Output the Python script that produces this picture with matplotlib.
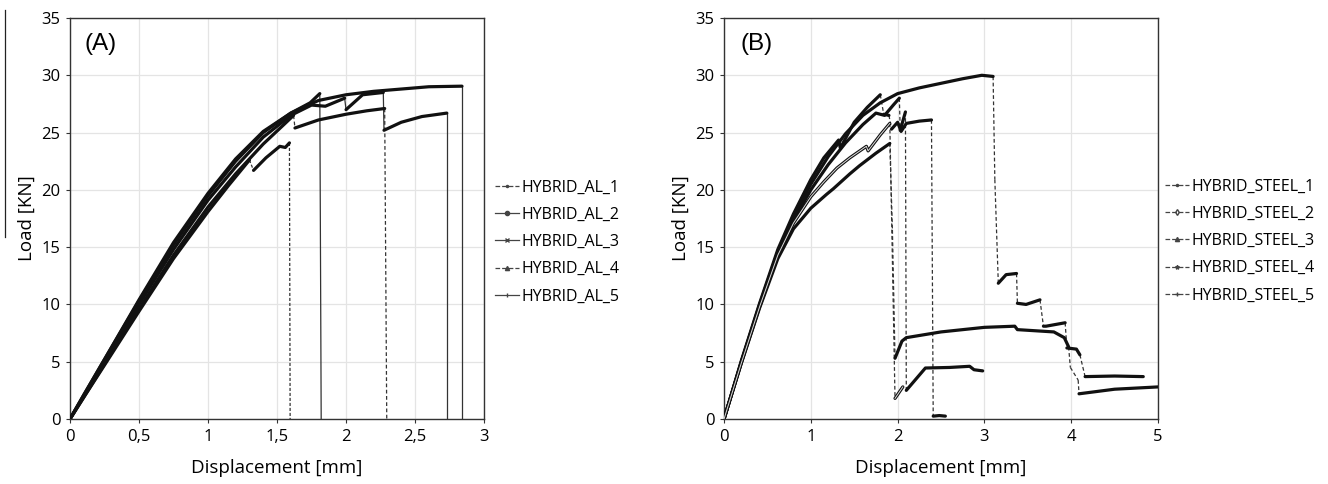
import matplotlib
matplotlib.use("Agg")
import matplotlib.pyplot as plt
from matplotlib.lines import Line2D

plt.rcParams['font.family'] = ['Open Sans', 'DejaVu Sans']

# ---------------- data : panel (A) ----------------
al_labels = ["HYBRID_AL_1", "HYBRID_AL_2", "HYBRID_AL_3", "HYBRID_AL_4", "HYBRID_AL_5"]

al1_x = [0, 0.1, 0.25, 0.5, 0.75, 1.0, 1.15, 1.30, 1.33, 1.42, 1.52, 1.56, 1.59, 1.595]
al1_y = [0, 1.9, 4.7, 9.4, 14.0, 18.1, 20.4, 22.6, 21.7, 22.8, 23.8, 23.7, 24.1, 0]

al2_x = [0, 0.1, 0.25, 0.5, 0.75, 1.0, 1.2, 1.4, 1.6, 1.75, 1.85, 1.99, 2.0, 2.12, 2.27, 2.275, 2.4, 2.55, 2.73, 2.73]
al2_y = [0, 2.0, 5.0, 10.0, 14.8, 19.1, 22.0, 24.6, 26.5, 27.4, 27.3, 28.0, 27.0, 28.3, 28.5, 25.2, 25.9, 26.4, 26.7, 0]

al3_x = [0, 0.1, 0.25, 0.5, 0.75, 1.0, 1.2, 1.4, 1.6, 1.74, 1.81, 1.82]
al3_y = [0, 2.1, 5.2, 10.3, 15.2, 19.5, 22.5, 25.0, 26.7, 27.6, 28.4, 0]

al4_x = [0, 0.1, 0.25, 0.5, 0.75, 1.0, 1.2, 1.4, 1.55, 1.62, 1.63, 1.8, 2.0, 2.15, 2.28, 2.295]
al4_y = [0, 1.9, 4.8, 9.6, 14.3, 18.5, 21.4, 24.0, 25.7, 26.5, 25.4, 26.1, 26.6, 26.9, 27.1, 0]

al5_x = [0, 0.1, 0.25, 0.5, 0.75, 1.0, 1.2, 1.4, 1.6, 1.8, 2.0, 2.2, 2.4, 2.6, 2.84, 2.84]
al5_y = [0, 2.1, 5.2, 10.4, 15.4, 19.7, 22.7, 25.1, 26.7, 27.8, 28.3, 28.6, 28.8, 29.0, 29.05, 0]

# ---------------- data : panel (B) ----------------
st_labels = ["HYBRID_STEEL_1", "HYBRID_STEEL_2", "HYBRID_STEEL_3", "HYBRID_STEEL_4", "HYBRID_STEEL_5"]

st1_x = [0, 0.2, 0.41, 0.62, 0.8, 1.0, 1.2, 1.4, 1.6, 1.8, 2.0, 2.25, 2.5, 2.75, 2.97, 3.10, 3.12, 3.16,
         3.25, 3.37, 3.38, 3.48, 3.64, 3.68, 3.71, 3.93, 3.95, 4.06, 4.10, 4.16, 4.5, 4.83]
st1_y = [0, 5.0, 10.0, 14.6, 17.6, 20.5, 22.9, 24.9, 26.5, 27.6, 28.4, 28.9, 29.3, 29.7, 30.0, 29.9, 20.9, 11.85,
         12.6, 12.7, 10.1, 10.0, 10.4, 8.1, 8.1, 8.4, 6.2, 6.1, 5.6, 3.7, 3.75, 3.7]

st2_x = [0, 0.2, 0.41, 0.62, 0.8, 1.0, 1.15, 1.3, 1.45, 1.64, 1.66, 1.8, 1.91, 1.97, 2.06]
st2_y = [0, 4.9, 9.8, 14.3, 17.1, 19.4, 20.7, 21.9, 22.8, 23.8, 23.4, 24.8, 25.8, 1.8, 2.8]

st3_x = [0, 0.2, 0.41, 0.62, 0.8, 1.0, 1.2, 1.4, 1.6, 1.75, 1.85, 1.95, 2.02, 2.03, 2.09, 2.10,
         2.32, 2.6, 2.83, 2.88, 2.98]
st3_y = [0, 5.0, 9.9, 14.4, 17.3, 20.0, 22.2, 24.1, 25.7, 26.7, 26.5, 27.4, 28.0, 25.2, 26.8, 2.5,
         4.45, 4.5, 4.6, 4.3, 4.2]

st4_x = [0, 0.2, 0.41, 0.62, 0.8, 1.0, 1.18, 1.26, 1.45, 1.56, 1.75, 1.91, 1.94, 1.97, 2.05, 2.1, 2.5,
         3.0, 3.35, 3.38, 3.8, 3.92, 3.97, 3.99, 4.08, 4.09, 4.5, 5.0]
st4_y = [0, 4.9, 9.7, 14.0, 16.6, 18.4, 19.6, 20.1, 21.4, 22.1, 23.2, 24.05, 16.5, 5.3, 6.8, 7.1, 7.6,
         8.0, 8.1, 7.8, 7.6, 7.1, 6.3, 4.5, 3.4, 2.2, 2.6, 2.8]

st5_x = [0, 0.2, 0.41, 0.62, 0.8, 1.0, 1.15, 1.32, 1.34, 1.5, 1.65, 1.80, 1.84, 1.90, 1.93, 2.0, 2.04,
         2.1, 2.25, 2.39, 2.41, 2.48, 2.55]
st5_y = [0, 5.1, 10.1, 14.8, 17.9, 20.9, 22.8, 24.35, 23.65, 25.9, 27.2, 28.3, 26.6, 26.5, 25.3, 25.9, 25.1,
         25.8, 26.0, 26.1, 0.25, 0.3, 0.25]


def draw_series(ax, xs, ys, drop_ls, lw=2.3, hollow=False):
    # thick line along the loading path, thin line for the load drops
    seg_x, seg_y = [xs[0]], [ys[0]]
    for i in range(1, len(xs)):
        if ys[i] < ys[i - 1] - 0.9:
            if len(seg_x) > 1:
                ax.plot(seg_x, seg_y, color='#111111', lw=lw, solid_capstyle='round',
                        solid_joinstyle='round', zorder=3)
                if hollow:
                    ax.plot(seg_x, seg_y, color='#dddddd', lw=0.7, zorder=4)
            ax.plot([xs[i - 1], xs[i]], [ys[i - 1], ys[i]], color='#333333', lw=0.9,
                    linestyle=drop_ls, zorder=2)
            seg_x, seg_y = [xs[i]], [ys[i]]
        else:
            seg_x.append(xs[i])
            seg_y.append(ys[i])
    if len(seg_x) > 1:
        ax.plot(seg_x, seg_y, color='#111111', lw=lw, solid_capstyle='round',
                solid_joinstyle='round', zorder=3)
        if hollow:
            ax.plot(seg_x, seg_y, color='#dddddd', lw=0.7, zorder=4)


def style_axes(ax, xmax, xstep, xlabels):
    ax.set_xlim(0, xmax)
    ax.set_ylim(0, 35)
    xt = [i * xstep for i in range(len(xlabels))]
    ax.set_xticks(xt)
    ax.set_xticklabels(xlabels)
    ax.set_yticks(range(0, 36, 5))
    ax.grid(True, color='#e4e4e4', lw=0.9)
    ax.set_axisbelow(True)
    for s in ax.spines.values():
        s.set_color('#333333')
        s.set_linewidth(1.0)
    ax.tick_params(labelsize=12, length=3, color='#333333', pad=4)
    ax.set_xlabel("Displacement [mm]", fontsize=13.5, labelpad=10)
    ax.set_ylabel("Load [KN]", fontsize=13.5, labelpad=4)


fig = plt.figure(figsize=(13.28, 4.84), dpi=100)
axA = fig.add_axes([0.0527, 0.1343, 0.3118, 0.8285])
axB = fig.add_axes([0.5452, 0.1343, 0.3268, 0.8285])

# panel A
draw_series(axA, al1_x, al1_y, (0, (2.5, 1.5)))
draw_series(axA, al2_x, al2_y, '-')
draw_series(axA, al3_x, al3_y, '-')
draw_series(axA, al4_x, al4_y, (0, (3, 2)))
draw_series(axA, al5_x, al5_y, '-')
style_axes(axA, 3, 0.5, ["0", "0,5", "1", "1,5", "2", "2,5", "3"])
axA.text(0.036, 0.935, "(A)", transform=axA.transAxes, fontsize=17.5,
         family=['Liberation Sans', 'DejaVu Sans'], va='center')

# panel B
for xs, ys, hol in [(st1_x, st1_y, False), (st2_x, st2_y, True), (st3_x, st3_y, False),
                    (st4_x, st4_y, False), (st5_x, st5_y, False)]:
    draw_series(axB, xs, ys, (0, (3, 2)), hollow=hol)
style_axes(axB, 5, 1, ["0", "1", "2", "3", "4", "5"])
axB.text(0.037, 0.935, "(B)", transform=axB.transAxes, fontsize=17.5,
         family=['Liberation Sans', 'DejaVu Sans'], va='center')

# legends
al_styles = [('--', '.'), ('-', 'o'), ('-', 'x'), ('--', '^'), ('-', '|')]
al_handles = [Line2D([], [], color='#444444', lw=0.9, linestyle=ls, marker=mk, markersize=3,
                     markerfacecolor='#444444') for ls, mk in al_styles]
axA.legend(al_handles, al_labels, loc='center left', bbox_to_anchor=(0.3727, 0.5),
           bbox_transform=fig.transFigure, frameon=False, fontsize=11.5,
           handlelength=1.5, handletextpad=0.15, labelspacing=0.7, borderpad=0, borderaxespad=0)

st_styles = [('.', '#444444'), ('d', 'none'), ('^', '#444444'), ('*', '#444444'), ('+', '#444444')]
st_handles = [Line2D([], [], color='#444444', lw=0.9, linestyle='--', marker=mk, markersize=3,
                     markerfacecolor=fc) for mk, fc in st_styles]
axB.legend(st_handles, st_labels, loc='center left', bbox_to_anchor=(0.877, 0.502),
           bbox_transform=fig.transFigure, frameon=False, fontsize=11.5,
           handlelength=1.5, handletextpad=0.15, labelspacing=0.7, borderpad=0, borderaxespad=0)

# scan artefact: thin line left of panel A
fig.add_artist(Line2D([5 / 1328, 5 / 1328], [1 - 10 / 484, 1 - 237 / 484],
                      transform=fig.transFigure, color='#222222', lw=0.9))

fig.savefig("out.png", dpi=100)
